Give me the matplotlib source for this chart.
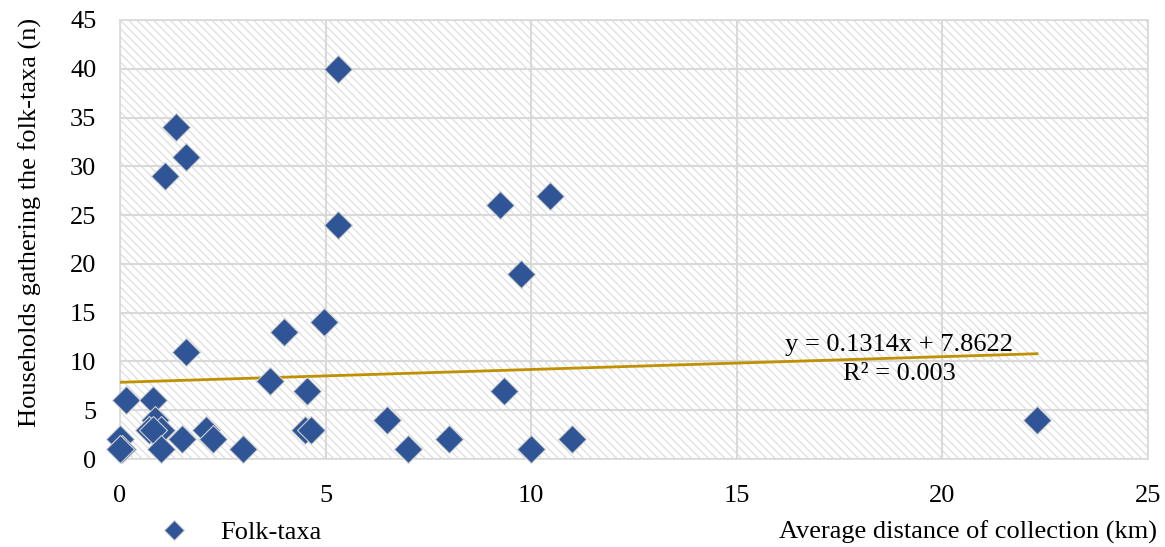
import numpy as np
import matplotlib.pyplot as plt
import matplotlib.patches as patches

plt.rcParams['font.family'] = ['Liberation Serif', 'DejaVu Serif']
plt.rcParams['hatch.linewidth'] = 0.9

# average distance of collection (km) and households gathering (n)
dist_km = [5.3, 1.35, 1.6, 1.1, 10.45, 9.25, 5.3, 9.75, 4.95, 4.0, 1.6, 3.65,
           4.55, 9.35, 0.15, 0.8, 6.5, 0.85, 22.3, 0.7, 1.0, 0.8, 2.1, 4.5,
           4.65, 0.0, 1.5, 2.25, 8.0, 11.0, 0.05, 0.0, 1.0, 3.0, 7.0, 10.0]
households = [40, 34, 31, 29, 27, 26, 24, 19, 14, 13, 11, 8,
              7, 7, 6, 6, 4, 4, 4, 3, 3, 3, 3, 3,
              3, 2, 2, 2, 2, 2, 1, 1, 1, 1, 1, 1]

# excel trendline
slope = 0.1314
intercept = 7.8622
r2 = 0.003

fig = plt.figure(figsize=(11.65, 5.47), dpi=100)
ax = fig.add_axes([120/1165, 1-459/547, 1028/1165, 439/547])

bg = patches.Rectangle((0, 0), 1, 1, transform=ax.transAxes, facecolor='white',
                       edgecolor='#dedede', hatch='\\\\\\\\', linewidth=0, zorder=0)
ax.add_patch(bg)

ax.set_xlim(0, 25)
ax.set_ylim(0, 45)
ax.set_xticks(np.arange(0, 26, 5))
ax.set_yticks(np.arange(0, 46, 5))
ax.grid(True, color='#d9d9d9', linewidth=1.5, zorder=1)
ax.set_axisbelow(True)
for s in ax.spines.values():
    s.set_color('#d9d9d9')
    s.set_linewidth(1.2)
ax.tick_params(length=0, labelsize=19)
ax.tick_params(axis='y', pad=17)
ax.tick_params(axis='x', pad=19)

xs = np.array([0, max(dist_km)])
ax.plot(xs, slope*xs + intercept, color='#bf9000', linewidth=2.0, zorder=3)

ax.plot(dist_km, households, linestyle='none', marker='D', markersize=14,
        markerfacecolor='#2f5597', markeredgecolor='#d0d0d0', markeredgewidth=0.8,
        zorder=4, clip_on=False)

ax.text(18.95, 10.2, 'y = %.4fx + %.4f\nR² = %.3f' % (slope, intercept, r2),
        ha='center', va='center', fontsize=19, linespacing=1.45, zorder=5)

fig.text(30/1165, 1-222/547, 'Households gathering the folk-taxa (n)',
         rotation=90, ha='center', va='center', fontsize=19)
fig.text(1157/1165, 1-532/547, 'Average distance of collection (km)',
         ha='right', va='center', fontsize=19)

h, = ax.plot([], [], linestyle='none', marker='D', markersize=10,
             markerfacecolor='#2f5597', markeredgecolor='#d0d0d0', markeredgewidth=0.8)
fig.legend([h], ['Folk-taxa'], loc='center left', bbox_to_anchor=(144/1165, 1-532/547),
           frameon=False, fontsize=19, handlelength=1.5, handletextpad=1.0, borderaxespad=0)

fig.savefig('out.png', dpi=100)
